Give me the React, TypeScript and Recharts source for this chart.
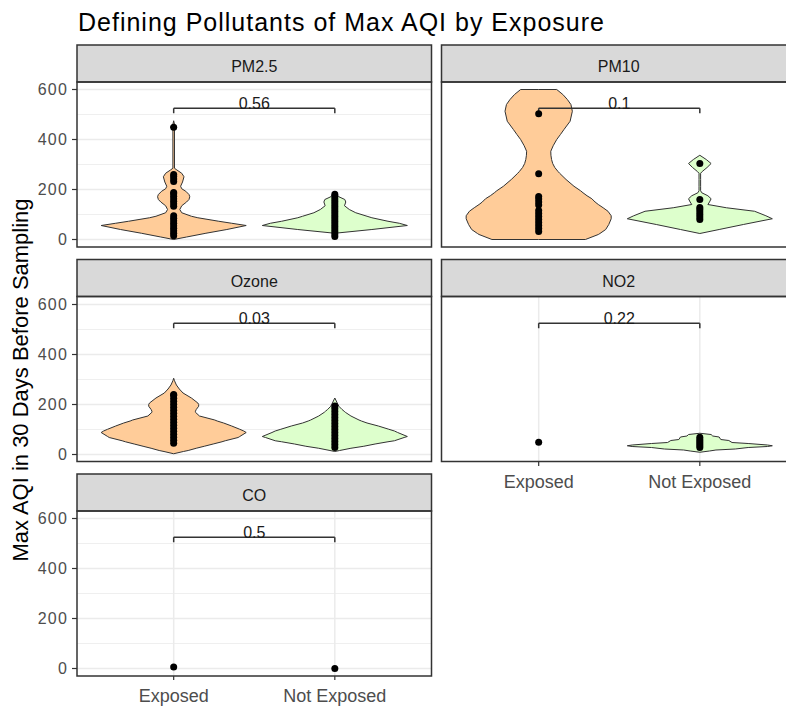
import React from 'react';
import {
  ComposedChart,
  Area,
  Scatter,
  XAxis,
  YAxis,
  CartesianGrid,
  ReferenceLine,
  ReferenceDot,
} from 'recharts';

// ---------- categories / labels ----------
const groups = ['Exposed', 'Not Exposed'];
const pollutants = ['PM2.5', 'PM10', 'Ozone', 'NO2', 'CO'];
const pValues = ['0.56', '0.1', '0.03', '0.22', '0.5'];
const yTicks = [0, 200, 400, 600];
const yMinorTicks = [100, 300, 500];
const bracketY = 525;
const bracketTickY = 505;

// ---------- PM2.5 ----------
const pm25Y = [0, 10, 25, 40, 56, 65, 73, 87, 93, 107, 120, 135, 150, 160, 171, 180, 193, 203, 213, 230, 251, 265, 278, 285, 440, 450, 460, 475];
const pm25ExposedWidth = [0, 0.08, 0.2, 0.33, 0.45, 0.36, 0.28, 0.15, 0.11, 0.05, 0.038, 0.05, 0.08, 0.095, 0.1, 0.095, 0.075, 0.05, 0.043, 0.055, 0.064, 0.05, 0.02, 0.005, 0.005, 0.02, 0.005, 0];
const pm25NotExposedWidth = [null, null, 0, 0.23, 0.45, 0.4, 0.33, 0.23, 0.2, 0.13, 0.09, 0.06, 0.068, 0.062, 0.025, 0.012, 0, null, null, null, null, null, null, null, null, null, null, null];
const pm25ExposedPoints = [15, 25, 35, 45, 55, 65, 75, 85, 95, 133, 143, 153, 163, 173, 183, 188, 232, 242, 252, 260, 449];
const pm25NotExposedPoints = [12, 22, 32, 42, 52, 62, 72, 82, 92, 102, 112, 122, 132, 142, 152, 162, 172, 181];

// ---------- PM10 ----------
const pm10Y = [0, 0, 20, 24, 40, 60, 83, 95, 113, 127, 140, 150, 163, 175, 187, 195, 213, 240, 265, 272, 288, 304, 320, 337, 353, 375, 400, 420, 440, 473, 513, 540, 560, 580, 600, 600];
const pm10ExposedWidth = [0, 0.29, 0.37, 0.38, 0.416, 0.435, 0.45, 0.45, 0.43, 0.4, 0.37, 0.35, 0.33, 0.3, 0.275, 0.26, 0.219, 0.17, 0.13, 0.12, 0.1, 0.087, 0.08, 0.076, 0.075, 0.09, 0.112, 0.135, 0.157, 0.195, 0.209, 0.2, 0.178, 0.15, 0.112, 0];
const pm10NotExposedWidth = [null, null, null, 0, 0.12, 0.27, 0.45, 0.41, 0.34, 0.165, 0.05, 0.06, 0.07, 0.05, 0.012, 0.005, 0.005, 0.005, 0.005, 0.015, 0.045, 0.07, 0.04, 0, null, null, null, null, null, null, null, null, null, null, null, null];
const pm10ExposedPoints = [32, 44, 56, 68, 80, 92, 104, 116, 138, 150, 162, 172, 263, 503];
const pm10NotExposedPoints = [80, 90, 100, 110, 120, 128, 160, 304];

// ---------- Ozone ----------
const ozoneY = [3, 12, 16, 25, 33, 42, 51, 55, 68, 72, 88, 94, 101, 114, 126, 134, 138, 154, 169, 173, 180, 193, 200, 206, 226, 246, 262, 278, 295, 305];
const ozoneExposedWidth = [0, 0.06, 0.09, 0.14, 0.19, 0.245, 0.3, 0.32, 0.4, 0.41, 0.45, 0.435, 0.41, 0.36, 0.31, 0.27, 0.255, 0.16, 0.135, 0.135, 0.14, 0.155, 0.155, 0.15, 0.11, 0.058, 0.035, 0.017, 0.005, 0];
const ozoneNotExposedWidth = [null, 0, 0.03, 0.1, 0.18, 0.25, 0.33, 0.37, 0.43, 0.45, 0.39, 0.37, 0.335, 0.27, 0.2, 0.165, 0.15, 0.1, 0.065, 0.058, 0.045, 0.025, 0.02, 0.015, 0, null, null, null, null, null];
const ozoneExposedPoints = [45, 57, 69, 81, 93, 105, 117, 129, 141, 153, 165, 177, 189, 201, 213, 225, 237, 240];
const ozoneNotExposedPoints = [28, 40, 52, 64, 76, 88, 100, 112, 124, 136, 148, 160, 172, 184, 194];

// ---------- NO2 ----------
const no2Y = [9, 14, 18, 22, 28, 32, 35, 38, 44, 48, 56, 60, 70, 74, 80, 85];
const no2NotExposedWidth = [0, 0.06, 0.1, 0.22, 0.3, 0.42, 0.45, 0.42, 0.3, 0.2, 0.18, 0.13, 0.12, 0.08, 0.07, 0];
const no2ExposedPoints = [49];
const no2NotExposedPoints = [28, 36, 44, 52, 60, 69];

// ---------- CO ----------
const coExposedPoints = [6];
const coNotExposedPoints = [0];

// ---------- layout ----------
const FONT = '"Liberation Sans", Arial, sans-serif';
const PLOT_W = 354.5;
const PLOT_H = 165;
const STRIP_H = 37;
const Y_AXIS_W = 77;
const X_AXIS_H = 32;
const COL_LEFT = [77, 441.5];
const ROW_TOP = [82, 296.5, 511];
const EXPOSED_FILL = '#FFCC99';
const NOT_EXPOSED_FILL = '#DDFFCC';

type Width = number | null;

function buildRows(ys: number[], exposed: Width[] | null, notExposed: Width[] | null) {
  return ys.map((y, i) => {
    const we = exposed ? exposed[i] : null;
    const wn = notExposed ? notExposed[i] : null;
    return {
      y,
      e: we == null ? [null, null] : [1 - we, 1 + we],
      n: wn == null ? [null, null] : [2 - wn, 2 + wn],
    };
  });
}

const toPoints = (vals: number[], x: number) => vals.map((v) => ({ x, y: v }));

const panels = [
  { name: pollutants[0], p: pValues[0], col: 0, row: 0, showY: true, showX: false, ys: pm25Y, ew: pm25ExposedWidth, nw: pm25NotExposedWidth, ep: pm25ExposedPoints, np: pm25NotExposedPoints },
  { name: pollutants[1], p: pValues[1], col: 1, row: 0, showY: false, showX: false, ys: pm10Y, ew: pm10ExposedWidth, nw: pm10NotExposedWidth, ep: pm10ExposedPoints, np: pm10NotExposedPoints },
  { name: pollutants[2], p: pValues[2], col: 0, row: 1, showY: true, showX: false, ys: ozoneY, ew: ozoneExposedWidth, nw: ozoneNotExposedWidth, ep: ozoneExposedPoints, np: ozoneNotExposedPoints },
  { name: pollutants[3], p: pValues[3], col: 1, row: 1, showY: false, showX: true, ys: no2Y, ew: null, nw: no2NotExposedWidth, ep: no2ExposedPoints, np: no2NotExposedPoints },
  { name: pollutants[4], p: pValues[4], col: 0, row: 2, showY: true, showX: true, ys: [0], ew: null, nw: null, ep: coExposedPoints, np: coNotExposedPoints },
];

const Dot = (props: any) => {
  const { cx, cy } = props;
  if (cx == null || cy == null) return null;
  return <circle cx={cx} cy={cy} r={3.5} fill="#000" />;
};

function Panel({ d }: { d: (typeof panels)[number] }) {
  const rows = buildRows(d.ys, d.ew, d.nw);
  const plotLeft = COL_LEFT[d.col];
  const plotTop = ROW_TOP[d.row];
  const width = (d.showY ? Y_AXIS_W : 0) + PLOT_W;
  const height = PLOT_H + (d.showX ? X_AXIS_H : 0);
  const left = d.showY ? plotLeft - Y_AXIS_W : plotLeft;
  return (
    <div style={{ position: 'absolute', left, top: plotTop }}>
      <ComposedChart
        layout="vertical"
        width={width}
        height={height}
        data={rows}
        margin={{ top: 0, right: 0, bottom: 0, left: 0 }}
      >
        <CartesianGrid horizontalValues={yMinorTicks} vertical={false} stroke="#ebebeb" strokeWidth={0.8} />
        <CartesianGrid horizontalValues={yTicks} verticalValues={[1, 2]} stroke="#ebebeb" strokeWidth={1.5} />
        <XAxis
          type="number"
          dataKey="x"
          domain={[0.4, 2.6]}
          ticks={[1, 2]}
          interval={0}
          allowDataOverflow
          height={d.showX ? X_AXIS_H : 0}
          axisLine={false}
          tickLine={d.showX ? { stroke: '#333333', strokeWidth: 1.2 } : false}
          tickSize={4}
          tickMargin={9}
          tick={d.showX ? { fill: '#4d4d4d', fontSize: 18, fontFamily: FONT } : false}
          tickFormatter={(v: number) => groups[v - 1]}
        />
        <YAxis
          type="number"
          dataKey="y"
          domain={[-30, 630]}
          ticks={yTicks}
          interval={0}
          reversed
          allowDataOverflow
          width={d.showY ? Y_AXIS_W : 0}
          axisLine={false}
          tickLine={d.showY ? { stroke: '#333333', strokeWidth: 1.2 } : false}
          tickSize={5}
          tickMargin={4}
          tick={d.showY ? { fill: '#4d4d4d', fontSize: 16, fontFamily: FONT, letterSpacing: 1.2 } : false}
        />
        {d.ew && (
          <Area
            type="linear"
            dataKey="e"
            stroke="#333333"
            strokeWidth={1}
            fill={EXPOSED_FILL}
            fillOpacity={1}
            dot={false}
            activeDot={false}
            isAnimationActive={false}
          />
        )}
        {d.nw && (
          <Area
            type="linear"
            dataKey="n"
            stroke="#333333"
            strokeWidth={1}
            fill={NOT_EXPOSED_FILL}
            fillOpacity={1}
            dot={false}
            activeDot={false}
            isAnimationActive={false}
          />
        )}
        <ReferenceLine segment={[{ x: 1, y: bracketY }, { x: 2, y: bracketY }]} stroke="#333333" strokeWidth={1.5} />
        <ReferenceLine segment={[{ x: 1, y: bracketY }, { x: 1, y: bracketTickY }]} stroke="#333333" strokeWidth={1.5} />
        <ReferenceLine segment={[{ x: 2, y: bracketY }, { x: 2, y: bracketTickY }]} stroke="#333333" strokeWidth={1.5} />
        <ReferenceDot
          x={1.5}
          y={bracketY}
          r={0}
          fill="none"
          stroke="none"
          label={{ value: d.p, position: 'top', offset: -1, fill: '#1a1a1a', fontSize: 16, fontFamily: FONT }}
        />
        <Scatter data={toPoints(d.ep, 1)} dataKey="y" shape={Dot} isAnimationActive={false} />
        <Scatter data={toPoints(d.np, 2)} dataKey="y" shape={Dot} isAnimationActive={false} />
      </ComposedChart>
    </div>
  );
}

export default function App() {
  return (
    <div
      style={{
        position: 'absolute',
        left: 0,
        top: 0,
        width: 786,
        height: 706,
        overflow: 'hidden',
        background: '#ffffff',
        fontFamily: FONT,
      }}
    >
      {panels.map((d) => (
        <Panel key={d.name} d={d} />
      ))}
      <svg width={786} height={706} style={{ position: 'absolute', left: 0, top: 0, pointerEvents: 'none' }}>
        <text x={78} y={31} fontSize={25} letterSpacing={1} fontFamily={FONT} fill="#000">
          Defining Pollutants of Max AQI by Exposure
        </text>
        <text transform="translate(28,380) rotate(-90)" textAnchor="middle" fontSize={22} fontFamily={FONT} fill="#000">
          Max AQI in 30 Days Before Sampling
        </text>
        {panels.map((d) => {
          const x = COL_LEFT[d.col];
          const y = ROW_TOP[d.row];
          return (
            <g key={d.name}>
              <rect x={x} y={y - STRIP_H} width={PLOT_W} height={STRIP_H} fill="#d9d9d9" stroke="#333333" strokeWidth={1.5} />
              <text x={x + PLOT_W / 2} y={y - STRIP_H + 27} textAnchor="middle" fontSize={16} fontFamily={FONT} fill="#1a1a1a">
                {d.name}
              </text>
              <rect x={x} y={y} width={PLOT_W} height={PLOT_H} fill="none" stroke="#333333" strokeWidth={1.5} />
            </g>
          );
        })}
      </svg>
    </div>
  );
}
